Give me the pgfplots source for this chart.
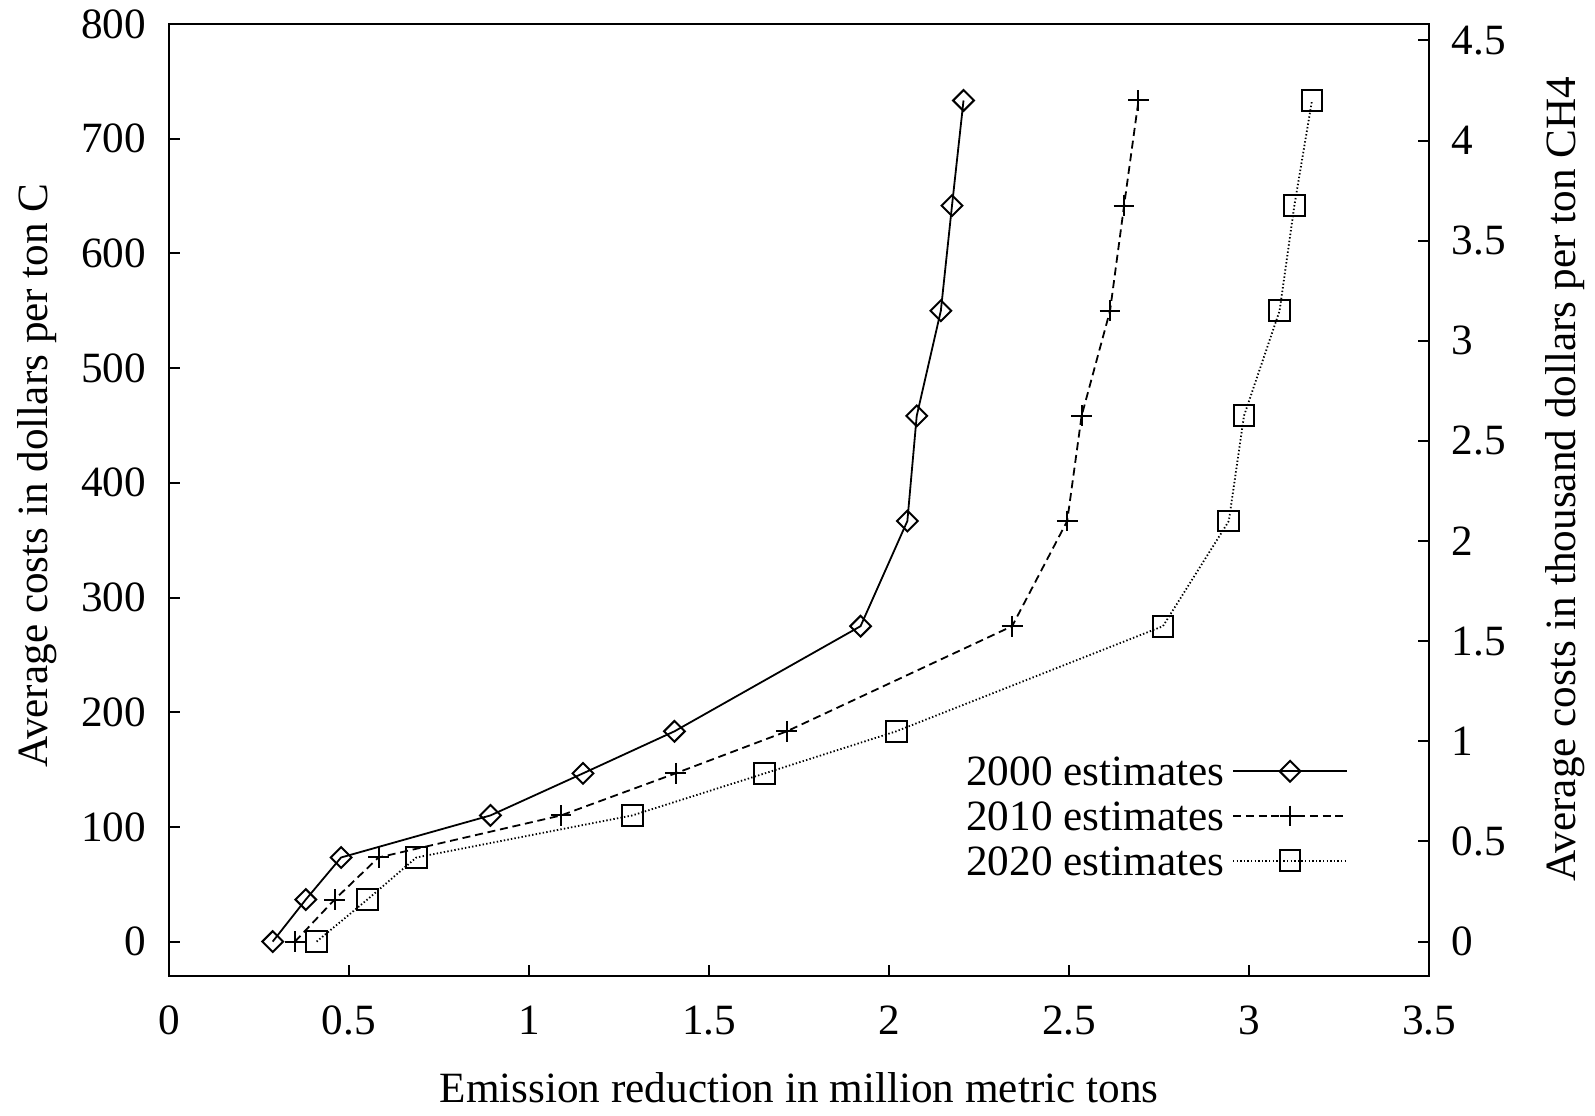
\documentclass[border=0pt]{standalone}
\usepackage{fontspec}
\setmainfont{Liberation Serif}
\usepackage{pgfplots}
\usepackage{pgfplotstable}
\pgfplotsset{compat=1.18}

% average costs per ton C; right axis = same in thousand $ per ton CH4
\pgfplotstableread{
x y
0.288 0
0.380 36.67
0.478 73.33
0.893 110
1.150 146.67
1.404 183.33
1.921 275
2.051 366.67
2.077 458.33
2.144 550
2.175 641.67
2.207 733.33
}\estA

\pgfplotstableread{
x y
0.350 0
0.460 36.67
0.582 73.33
1.089 110
1.407 146.67
1.716 183.33
2.342 275
2.495 366.67
2.535 458.33
2.614 550
2.653 641.67
2.693 733.33
}\estB

\pgfplotstableread{
x y
0.410 0
0.551 36.67
0.687 73.33
1.287 110
1.655 146.67
2.020 183.33
2.761 275
2.944 366.67
2.986 458.33
3.085 550
3.126 641.67
3.175 733.33
}\estC

\begin{document}
\begin{tikzpicture}[font=\fontsize{10.8}{13}\selectfont]
\useasboundingbox (-42.25pt,-34.75pt) rectangle (356.5pt,244pt);
\begin{axis}[
  at={(0pt,0pt)}, anchor=south west,
  scale only axis, width=315pt, height=238pt,
  xmin=0, xmax=3.5, ymin=-30, ymax=800,
  xtick={0,0.5,...,3.5}, ytick={0,100,...,800},
  xtick pos=bottom, ytick pos=left,
  tick align=inside, major tick length=2.75pt,
  tick style={black, line width=0.5pt},
  axis line style={line width=0.5pt},
  /pgf/number format/assume math mode=true,
  every tick label/.append style={inner sep=0pt, outer sep=0pt},
  xticklabel style={yshift=-7.5pt},
  yticklabel style={xshift=-5.75pt},
  xlabel={Emission reduction in million metric tons},
  ylabel={Average costs in dollars per ton C},
  xlabel style={at={(axis description cs:0.5,-0.1324)}, anchor=base, inner sep=0pt},
  ylabel style={at={(axis description cs:-0.0968,0.5257)}, anchor=base, inner sep=0pt},
  legend cell align=right, legend plot pos=right,
  legend image code/.code={\draw[mark repeat=2,mark phase=2,#1] plot coordinates {(0pt,0pt) (14.25pt,0pt) (28.5pt,0pt)};},
  legend style={draw=none, fill=none, at={(0.9357,0.168)}, anchor=east,
    inner sep=0pt, outer sep=0pt, row sep=0pt, column sep=2pt,
    nodes={inner sep=0pt, text height=9.25pt, text depth=1.95pt}},
]
\addplot[black, line width=0.45pt, mark=diamond, mark size=2.6pt,
  mark options={solid, xscale=1.333, line width=0.5pt}] table[x=x,y=y] {\estA};
\addlegendentry{2000 estimates}
\addplot[black, line width=0.45pt, dash pattern=on 2pt off 1.2pt, mark=+, mark size=2.6pt,
  mark options={solid, line width=0.5pt}] table[x=x,y=y] {\estB};
\addlegendentry{2010 estimates}
\addplot[black, line width=0.45pt, dash pattern=on 0.35pt off 0.55pt, mark=square, mark size=2.6pt,
  mark options={solid, line width=0.5pt}] table[x=x,y=y] {\estC};
\addlegendentry{2020 estimates}
\end{axis}
\begin{axis}[
  at={(0pt,0pt)}, anchor=south west,
  scale only axis, width=315pt, height=238pt,
  xmin=0, xmax=3.5, ymin=-0.171818, ymax=4.581818,
  axis x line=none, axis y line*=right,
  ytick={0,0.5,1,1.5,2,2.5,3,3.5,4,4.5},
  tick align=inside, major tick length=2.75pt,
  tick style={black, line width=0.5pt},
  axis line style={line width=0.5pt},
  /pgf/number format/assume math mode=true,
  every tick label/.append style={inner sep=0pt, outer sep=0pt},
  yticklabel style={xshift=5.7pt},
  ylabel={Average costs in thousand dollars per ton CH4},
  ylabel style={at={(axis description cs:1.1164,0.522)}, anchor=base, inner sep=0pt},
]
\end{axis}
\end{tikzpicture}
\end{document}
